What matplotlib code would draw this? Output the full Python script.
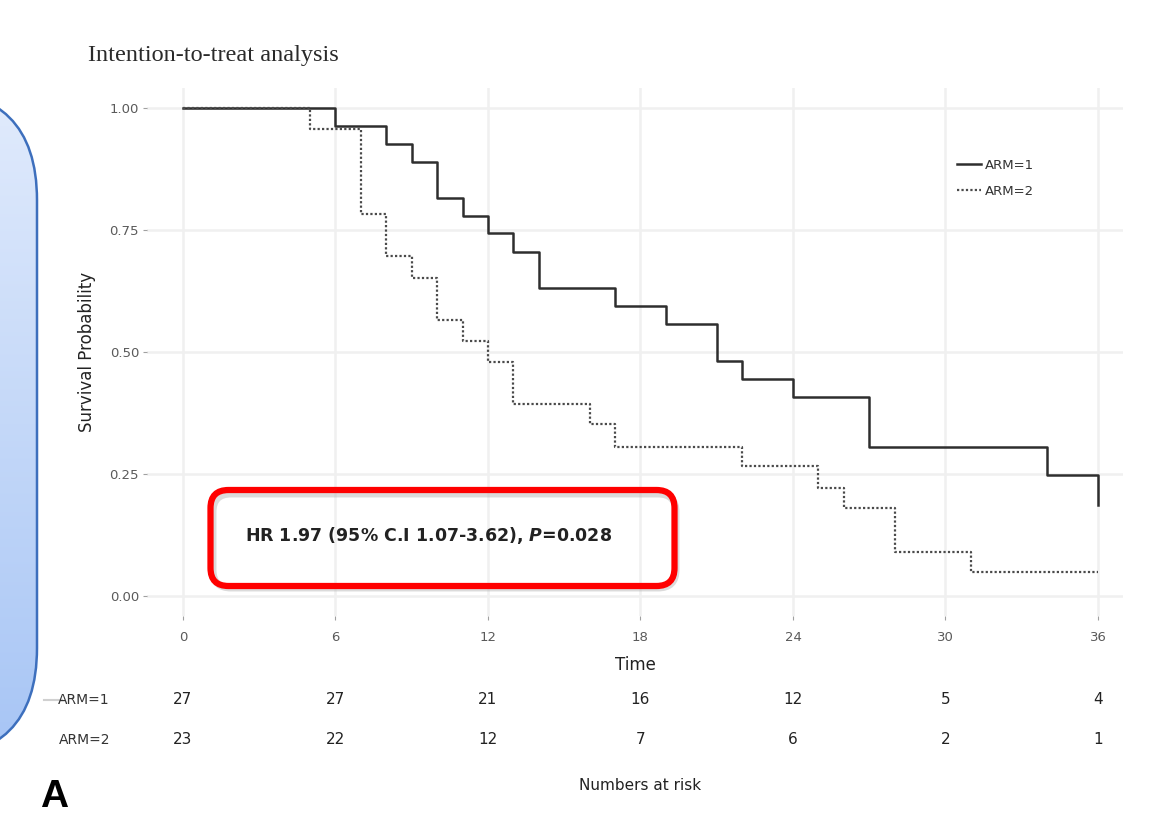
import numpy as np
import matplotlib
matplotlib.use("Agg")
import matplotlib.pyplot as plt
from matplotlib.patches import FancyBboxPatch
from matplotlib import transforms

# Kaplan-Meier step curves (time in months, survival probability)
arm1_times = [0, 6, 8, 9, 10, 11, 12, 13, 14, 17, 19, 21, 22, 24, 27, 34, 36]
arm1_surv = [1.0, 0.963, 0.926, 0.889, 0.815, 0.778, 0.743, 0.704, 0.631,
             0.594, 0.557, 0.482, 0.445, 0.407, 0.306, 0.248, 0.186]

arm2_times = [0, 5, 7, 8, 9, 10, 11, 12, 13, 16, 17, 22, 25, 26, 28, 31, 36]
arm2_surv = [1.0, 0.957, 0.783, 0.696, 0.652, 0.566, 0.522, 0.479, 0.394,
             0.352, 0.306, 0.266, 0.221, 0.180, 0.091, 0.050, 0.050]

risk_times = [0, 6, 12, 18, 24, 30, 36]
risk_arm1 = [27, 27, 21, 16, 12, 5, 4]
risk_arm2 = [23, 22, 12, 7, 6, 2, 1]

y_ticks = [0.0, 0.25, 0.50, 0.75, 1.00]
y_ticklabels = ["0.00", "0.25", "0.50", "0.75", "1.00"]

series_labels = ["ARM=1", "ARM=2"]
title_text = "Intention-to-treat analysis"
hr_text = r"HR 1.97 (95% C.I 1.07-3.62), $P$=0.028"

plt.rcParams["mathtext.fontset"] = "custom"
plt.rcParams["mathtext.it"] = "DejaVu Sans:italic:bold"
plt.rcParams["mathtext.rm"] = "DejaVu Sans:bold"

W, H = 1149, 818
fig = plt.figure(figsize=(W / 100, H / 100), dpi=100)
fig.patch.set_facecolor("white")

# main survival panel
left_px, right_px, top_px, bot_px = 147.4, 1123.4, 88.5, 615.5
ax = fig.add_axes([left_px / W, 1 - bot_px / H,
                   (right_px - left_px) / W, (bot_px - top_px) / H])
ax.set_xlim(-1.4, 37.0)
ax.set_ylim(-0.04, 1.04)
ax.set_facecolor("white")
for s in ax.spines.values():
    s.set_visible(False)
ax.set_xticks(risk_times)
ax.set_yticks(y_ticks)
ax.set_yticklabels(y_ticklabels)
ax.grid(True, color="#f0f0f0", linewidth=1.8)
ax.set_axisbelow(True)
ax.tick_params(axis="both", colors="#a0a0a0", length=3, width=0.8,
               labelsize=9.5, labelcolor="#5a5a5a")
ax.tick_params(axis="x", pad=8)
ax.tick_params(axis="y", pad=3)

l1, = ax.step(arm1_times, arm1_surv, where="post", color="#2e2e2e",
              linewidth=1.8, label=series_labels[0])
l2, = ax.step(arm2_times, arm2_surv, where="post", color="#4a4a4a",
              linewidth=1.6, linestyle=(0, (1, 1)), label=series_labels[1])

ax.legend(handles=[l1, l2], loc="upper left", frameon=False,
          bbox_to_anchor=(945 / W, 1 - 147 / H), bbox_transform=fig.transFigure,
          handlelength=1.8, handletextpad=0.3, labelspacing=1.0,
          fontsize=9.5, labelcolor="#333333")

ax.set_xlabel("Time", fontsize=12, color="#222222", labelpad=9)
ax.set_ylabel("Survival Probability", fontsize=12, color="#222222", labelpad=10)

# overlay in pixel coordinates for annotations
ov = fig.add_axes([0, 0, 1, 1], zorder=5)
ov.set_xlim(0, W)
ov.set_ylim(H, 0)
ov.axis("off")
ov.patch.set_alpha(0)

ov.text(88, 55, title_text, fontsize=17.5, family="Liberation Serif",
        color="#2a2a2a", ha="left", va="center")

# number-at-risk table
bt = transforms.blended_transform_factory(ax.transData, ov.transData)
for t, n1, n2 in zip(risk_times, risk_arm1, risk_arm2):
    ax.text(t, 700, str(n1), transform=bt, ha="center", va="center",
            fontsize=11, color="#222222", clip_on=False)
    ax.text(t, 740, str(n2), transform=bt, ha="center", va="center",
            fontsize=11, color="#222222", clip_on=False)
ov.text(110, 700, series_labels[0], ha="right", va="center", fontsize=10,
        color="#333333")
ov.text(110, 740, series_labels[1], ha="right", va="center", fontsize=10,
        color="#333333")
ov.plot([44, 62], [700, 700], color="#d0d0d0", linewidth=1.5)
ov.text(640, 785, "Numbers at risk", ha="center", va="center", fontsize=11,
        color="#222222")
ov.text(40, 797, "A", ha="left", va="center", fontsize=28, weight="bold",
        family="Liberation Sans", color="black")

# blue side panel with vertical gradient
p_top, p_bot = 90, 758
panel = FancyBboxPatch((-200, p_top), 237, p_bot - p_top,
                       boxstyle="round,pad=0,rounding_size=110",
                       facecolor="none", edgecolor="#3d6fbd", linewidth=1.8,
                       zorder=3)
ov.add_patch(panel)
grad = np.linspace(0, 1, 256)[:, None]
cmap = matplotlib.colors.LinearSegmentedColormap.from_list(
    "panel", ["#e1ebfc", "#a7c5f5"])
im = ov.imshow(grad, extent=(-200, 37, p_bot, p_top), cmap=cmap, aspect="auto",
               zorder=2, interpolation="bilinear")
im.set_clip_path(panel)
ov.set_xlim(0, W)
ov.set_ylim(H, 0)

# hazard-ratio callout
shadow = FancyBboxPatch((213, 494), 463, 94,
                        boxstyle="round,pad=0,rounding_size=18",
                        facecolor="none", edgecolor="#b8b8b8", linewidth=5,
                        alpha=0.5, zorder=3)
ov.add_patch(shadow)
box = FancyBboxPatch((210.5, 490), 464, 96,
                     boxstyle="round,pad=0,rounding_size=18",
                     facecolor="none", edgecolor="#ff0000", linewidth=4.5,
                     zorder=4)
ov.add_patch(box)
ov.text(245, 536, hr_text, ha="left", va="center", fontsize=12.5,
        weight="bold", color="#222222", zorder=5)

fig.savefig("out.png", dpi=100, facecolor="white")
